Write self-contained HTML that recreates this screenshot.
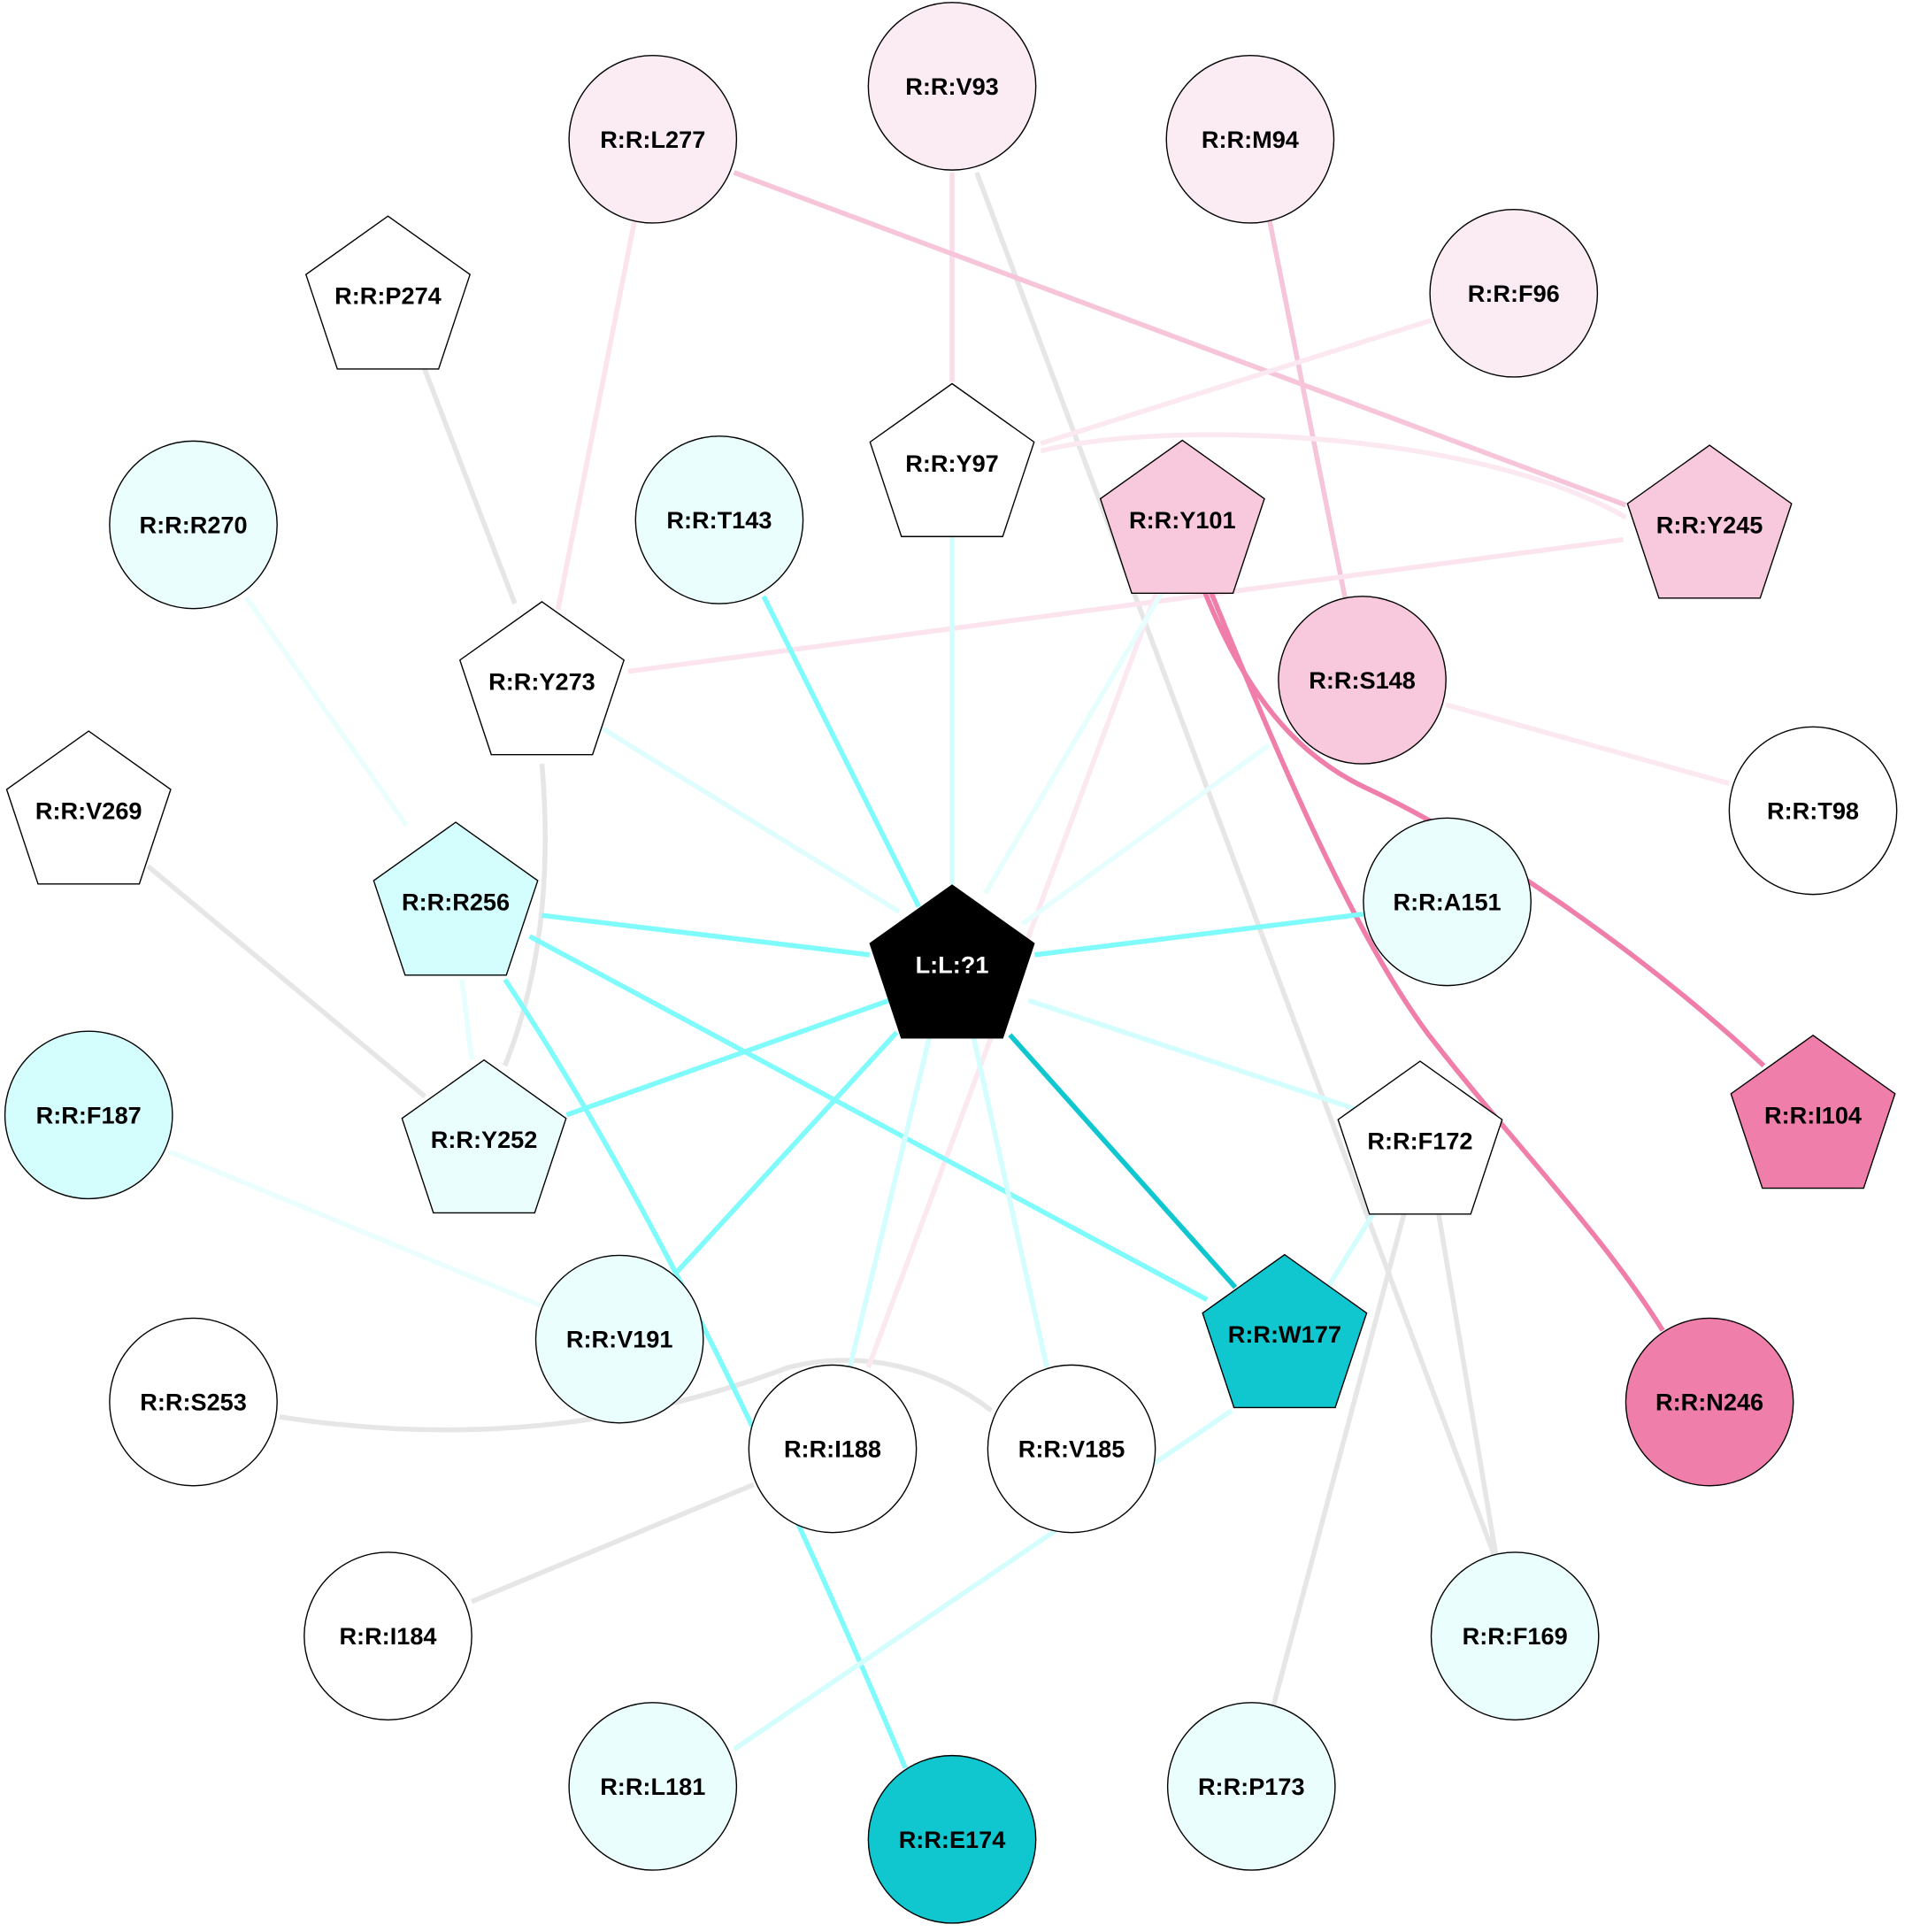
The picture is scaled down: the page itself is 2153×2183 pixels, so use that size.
<!DOCTYPE html>
<html><head><meta charset="utf-8"><style>
html,body{margin:0;padding:0;background:#fff;}
svg{display:block}
text{font-family:"Liberation Sans",Arial,sans-serif;font-weight:bold;font-size:19.5px;text-anchor:middle;dominant-baseline:central;fill:#000}
</style></head><body>
<svg width="2153" height="2183" viewBox="0 0 1546.7 1568.2" xmlns="http://www.w3.org/2000/svg">
<g fill="none" stroke-width="4">
<line x1="793" y1="140" x2="1213" y2="1262" stroke="#e6e6e6"/>
<path d="M343,295 L418,490" stroke="#e6e6e6"/>
<path d="M440,620 Q452,760 410,865" stroke="#e6e6e6"/>
<line x1="120" y1="703" x2="345" y2="890" stroke="#e6e6e6"/>
<line x1="1140" y1="985" x2="1033" y2="1388" stroke="#e6e6e6"/>
<line x1="1168" y1="985" x2="1215" y2="1265" stroke="#e6e6e6"/>
<path d="M227,1150 C420,1180 560,1140 640,1110 C700,1095 760,1110 805,1145" stroke="#e6e6e6"/>
<line x1="612" y1="1205" x2="383" y2="1300" stroke="#e6e6e6"/>
<line x1="773" y1="140" x2="773" y2="310" stroke="#fbdde9"/>
<line x1="596" y1="140" x2="1320" y2="410" stroke="#f7c5da"/>
<line x1="515" y1="180" x2="453" y2="495" stroke="#fbe4ee"/>
<line x1="1030" y1="175" x2="1092" y2="485" stroke="#f7c5da"/>
<line x1="1162" y1="260" x2="845" y2="360" stroke="#fbe8f0"/>
<path d="M845,366 C950,340 1200,350 1320,420" stroke="#fbe8f0"/>
<line x1="1318" y1="438" x2="510" y2="545" stroke="#fbe4ee"/>
<line x1="940" y1="478" x2="705" y2="1110" stroke="#fbe8f0"/>
<line x1="1174" y1="572" x2="1404" y2="636" stroke="#fbe8f0"/>
<path d="M978,480 C1010,560 1050,612 1110,640 C1200,682 1330,770 1432,865" stroke="#ef7eab"/>
<path d="M983,480 C1040,620 1100,760 1160,840 C1230,930 1300,1000 1350,1080" stroke="#ef7eab"/>
<line x1="773" y1="433" x2="773" y2="718" stroke="#d4fdfd"/>
<line x1="620" y1="484" x2="746" y2="736" stroke="#80fbfb"/>
<line x1="945" y1="478" x2="800" y2="725" stroke="#e6fefe"/>
<line x1="1030" y1="605" x2="830" y2="750" stroke="#e6fefe"/>
<line x1="487" y1="590" x2="730" y2="740" stroke="#e0fdfd"/>
<line x1="200" y1="485" x2="330" y2="670" stroke="#eafefe"/>
<line x1="440" y1="743" x2="706" y2="775" stroke="#80fbfb"/>
<line x1="375" y1="795" x2="383" y2="860" stroke="#e6fefe"/>
<line x1="430" y1="760" x2="980" y2="1055" stroke="#80fbfb"/>
<path d="M410,795 Q560,1020 735,1435" stroke="#80fbfb"/>
<line x1="840" y1="775" x2="1107" y2="742" stroke="#80fbfb"/>
<line x1="722" y1="812" x2="460" y2="905" stroke="#80fbfb"/>
<line x1="728" y1="838" x2="550" y2="1032" stroke="#80fbfb"/>
<line x1="755" y1="840" x2="690" y2="1110" stroke="#d4fdfd"/>
<line x1="790" y1="840" x2="850" y2="1110" stroke="#d4fdfd"/>
<line x1="820" y1="840" x2="1003" y2="1045" stroke="#10c7d0"/>
<line x1="835" y1="812" x2="1100" y2="900" stroke="#d4fdfd"/>
<line x1="1115" y1="985" x2="1078" y2="1045" stroke="#d4fdfd"/>
<line x1="138" y1="935" x2="440" y2="1060" stroke="#eafefe"/>
<line x1="1000" y1="1145" x2="596" y2="1420" stroke="#d4fdfd"/>
</g>
<g stroke="#000" stroke-width="1">
<circle cx="773" cy="70" r="68" fill="#fbebf2"/>
<circle cx="530" cy="113" r="68" fill="#fbebf2"/>
<circle cx="1015" cy="113" r="68" fill="#fbebf2"/>
<circle cx="1229" cy="238" r="68" fill="#fbebf2"/>
<circle cx="157" cy="426" r="68" fill="#eafefe"/>
<circle cx="584" cy="422" r="68" fill="#eafefe"/>
<circle cx="1106" cy="552" r="68" fill="#f8c8dc"/>
<circle cx="1472" cy="658" r="68" fill="#fff"/>
<circle cx="1175" cy="732" r="68" fill="#eafefe"/>
<circle cx="72" cy="905" r="68" fill="#d4fdfd"/>
<circle cx="503" cy="1087" r="68" fill="#eafefe"/>
<circle cx="157" cy="1138" r="68" fill="#fff"/>
<circle cx="676" cy="1176" r="68" fill="#fff"/>
<circle cx="870" cy="1176" r="68" fill="#fff"/>
<circle cx="1388" cy="1138" r="68" fill="#ef7eab"/>
<circle cx="315" cy="1328" r="68" fill="#fff"/>
<circle cx="1230" cy="1328" r="68" fill="#eafefe"/>
<circle cx="530" cy="1450" r="68" fill="#eafefe"/>
<circle cx="773" cy="1493" r="68" fill="#10c7d0"/>
<circle cx="1016" cy="1450" r="68" fill="#eafefe"/>
</g>
<g stroke="#000" stroke-width="1" id="pents"></g>
<g id="labels">
<text x="773" y="70">R:R:V93</text>
<text x="530" y="113">R:R:L277</text>
<text x="1015" y="113">R:R:M94</text>
<text x="1229" y="238">R:R:F96</text>
<text x="157" y="426">R:R:R270</text>
<text x="584" y="422">R:R:T143</text>
<text x="1106" y="552">R:R:S148</text>
<text x="1472" y="658">R:R:T98</text>
<text x="1175" y="732">R:R:A151</text>
<text x="72" y="905">R:R:F187</text>
<text x="503" y="1087">R:R:V191</text>
<text x="157" y="1138">R:R:S253</text>
<text x="676" y="1176">R:R:I188</text>
<text x="870" y="1176">R:R:V185</text>
<text x="1388" y="1138">R:R:N246</text>
<text x="315" y="1328">R:R:I184</text>
<text x="1230" y="1328">R:R:F169</text>
<text x="530" y="1450">R:R:L181</text>
<text x="773" y="1493">R:R:E174</text>
<text x="1016" y="1450">R:R:P173</text>
</g>
<script>
var P=[[315,240,"R:R:P274","#fff","#000"],[773,376,"R:R:Y97","#fff","#000"],[960,422,"R:R:Y101","#f8c8dc","#000"],
[1388,426,"R:R:Y245","#f8c8dc","#000"],[440,553,"R:R:Y273","#fff","#000"],[72,658,"R:R:V269","#fff","#000"],
[370,732,"R:R:R256","#d4fdfd","#000"],[773,783,"L:L:?1","#000","#fff"],[393,925,"R:R:Y252","#eafefe","#000"],
[1153,926,"R:R:F172","#fff","#000"],[1472,905,"R:R:I104","#ef7eab","#000"],[1043,1083,"R:R:W177","#10c7d0","#000"]];
var ns="http://www.w3.org/2000/svg",g=document.getElementById("pents"),R=70;
P.forEach(function(p){var pts=[];for(var i=0;i<5;i++){var a=-Math.PI/2+i*2*Math.PI/5;pts.push((p[0]+R*Math.cos(a)).toFixed(1)+","+(p[1]+4+R*Math.sin(a)*0.98).toFixed(1));}
var e=document.createElementNS(ns,"polygon");e.setAttribute("points",pts.join(" "));e.setAttribute("fill",p[3]);g.appendChild(e);
var t=document.createElementNS(ns,"text");t.setAttribute("x",p[0]);t.setAttribute("y",p[1]);t.setAttribute("style","fill:"+p[4]);t.textContent=p[2];document.getElementById("labels").appendChild(t);});
</script>
</svg>
</body></html>
